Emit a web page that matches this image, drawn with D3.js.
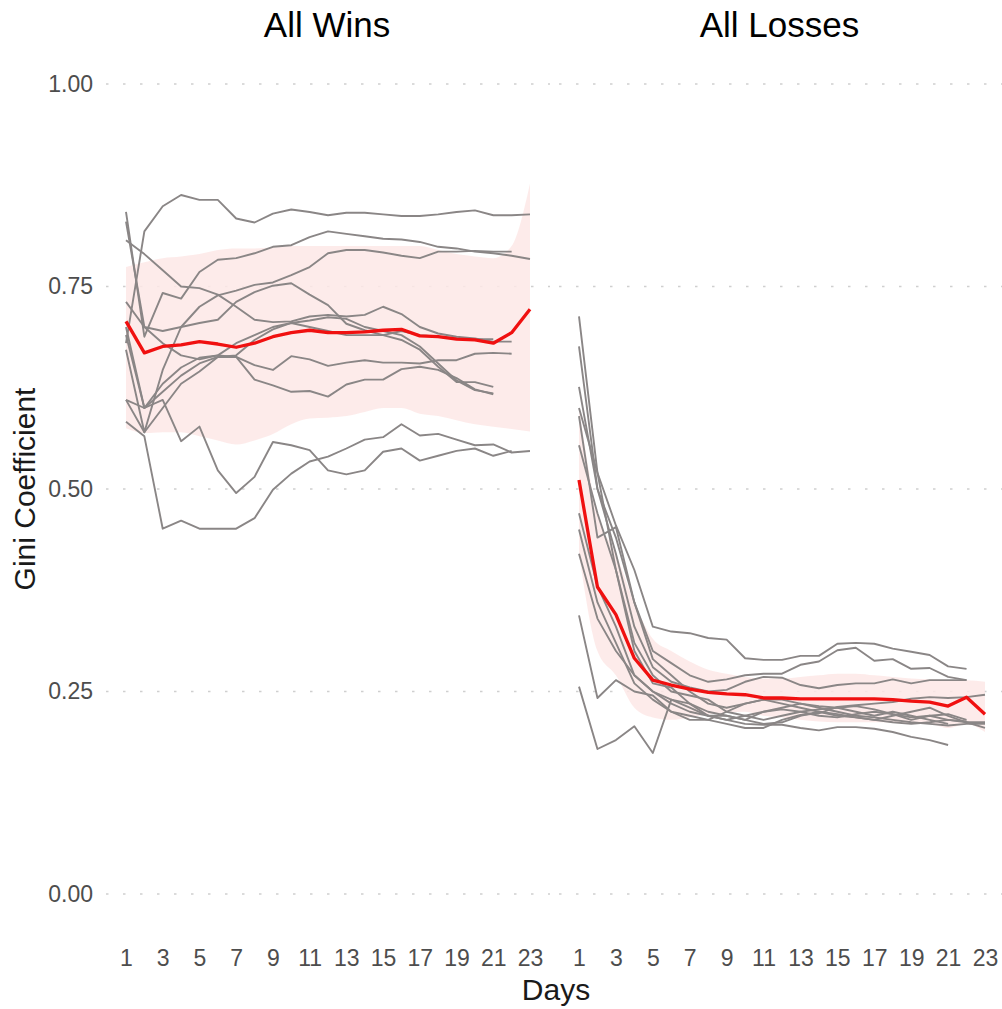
<!DOCTYPE html>
<html>
<head>
<meta charset="utf-8">
<script src="https://cdn.jsdelivr.net/npm/d3@7"></script>
<style>
  html, body { margin: 0; padding: 0; background: #ffffff; }
  svg { display: block; font-family: "Liberation Sans", Arial, Helvetica, sans-serif; }
</style>
</head>
<body>
<svg id="chart" width="1002" height="1009"></svg>
<script>
// ---------------- data ----------------
const days = d3.range(1, 24);
const xTickLabels = [1, 3, 5, 7, 9, 11, 13, 15, 17, 19, 21, 23];
const yTickValues = [0, 0.25, 0.5, 0.75, 1.0];
const panelTitles = ["All Wins", "All Losses"];

// All Wins: individual series (Gini coefficient by day, starting at day 1)
const winsA = [0.68,0.818,0.849,0.863,0.857,0.857,0.834,0.829,0.840,0.845,0.842,0.838,0.841,0.841,0.839,0.837,0.837,0.839,0.842,0.844,0.838,0.838,0.839];
const winsB = [0.842,0.688,0.742,0.735,0.768,0.783,0.785,0.791,0.799,0.801,0.811,0.818,0.815,0.812,0.809,0.808,0.805,0.799,0.797,0.793,0.791,0.788,0.784];
const winsC = [0.672,0.57,0.647,0.70,0.725,0.739,0.745,0.752,0.755,0.764,0.774,0.791,0.795,0.795,0.792,0.788,0.785,0.793,0.793,0.794,0.793,0.793];
const winsD = [0.83,0.70,0.68,0.665,0.66,0.665,0.68,0.69,0.70,0.705,0.70,0.695,0.69,0.69,0.69,0.695,0.69,0.688,0.686,0.685,0.685];
const winsE = [0.807,0.79,0.770,0.750,0.748,0.740,0.725,0.709,0.706,0.707,0.713,0.715,0.713,0.715,0.725,0.716,0.700,0.692,0.688,0.686,0.682,0.682];
const winsF = [0.61,0.57,0.60,0.63,0.645,0.663,0.663,0.653,0.647,0.664,0.660,0.652,0.656,0.659,0.656,0.656,0.655,0.659,0.659,0.667,0.668,0.667];
const winsG = [0.70,0.60,0.63,0.65,0.662,0.665,0.663,0.635,0.628,0.620,0.621,0.614,0.629,0.635,0.635,0.648,0.651,0.647,0.637,0.623,0.617];
const winsH = [0.583,0.565,0.451,0.461,0.451,0.451,0.451,0.464,0.499,0.519,0.534,0.540,0.550,0.561,0.564,0.580,0.566,0.568,0.561,0.554,0.555,0.545,0.547];
const winsI = [0.610,0.600,0.610,0.559,0.577,0.523,0.495,0.515,0.558,0.554,0.548,0.523,0.518,0.523,0.546,0.550,0.535,0.541,0.547,0.550,0.541,0.547];
const winsP = [0.731,0.70,0.695,0.70,0.705,0.709,0.731,0.743,0.751,0.754,0.740,0.727,0.704,0.696,0.690,0.684,0.672,0.651,0.632,0.632,0.626];
const winsR = [0.69,0.60,0.62,0.64,0.655,0.663,0.665,0.684,0.697,0.705,0.708,0.712,0.71,0.70,0.695,0.69,0.676,0.655,0.634,0.622,0.618];
const winsMean  = [0.707,0.668,0.676,0.678,0.682,0.679,0.675,0.680,0.688,0.693,0.696,0.693,0.693,0.694,0.696,0.697,0.689,0.688,0.685,0.684,0.680,0.693,0.722];
const winsLower = [0.575,0.569,0.57,0.57,0.565,0.56,0.555,0.56,0.568,0.58,0.587,0.588,0.59,0.595,0.60,0.60,0.593,0.59,0.585,0.58,0.577,0.574,0.571];
const winsUpper = [0.774,0.78,0.785,0.787,0.79,0.795,0.797,0.797,0.798,0.80,0.80,0.80,0.80,0.80,0.80,0.80,0.80,0.795,0.79,0.787,0.785,0.80,0.877];

// All Losses: individual series
const lossA = [0.713,0.52,0.455,0.40,0.33,0.324,0.322,0.316,0.314,0.291,0.289,0.289,0.294,0.294,0.309,0.310,0.309,0.303,0.299,0.295,0.281,0.278];
const lossB = [0.676,0.50,0.44,0.36,0.30,0.285,0.27,0.262,0.265,0.27,0.272,0.272,0.283,0.287,0.301,0.304,0.288,0.290,0.278,0.279,0.268,0.264];
const lossC = [0.626,0.50,0.42,0.33,0.28,0.262,0.255,0.25,0.252,0.262,0.268,0.267,0.258,0.254,0.258,0.260,0.260,0.265,0.260,0.264,0.264,0.264];
const lossD = [0.45,0.36,0.31,0.26,0.24,0.225,0.215,0.215,0.21,0.205,0.205,0.215,0.221,0.223,0.231,0.233,0.235,0.237,0.241,0.243,0.242,0.243,0.246];
const lossE = [0.42,0.34,0.30,0.27,0.25,0.235,0.225,0.22,0.215,0.21,0.209,0.209,0.205,0.202,0.206,0.206,0.204,0.200,0.194,0.190,0.184];
const lossF = [0.256,0.179,0.190,0.207,0.174,0.24,0.235,0.22,0.215,0.22,0.225,0.23,0.235,0.232,0.23,0.225,0.22,0.225,0.22,0.215,0.21];
const lossG = [0.344,0.242,0.264,0.25,0.245,0.225,0.22,0.215,0.225,0.235,0.24,0.235,0.23,0.225,0.22,0.218,0.215,0.212,0.21,0.212,0.215,0.213];
const lossH = [0.59,0.44,0.453,0.36,0.29,0.27,0.25,0.235,0.23,0.235,0.24,0.24,0.235,0.23,0.225,0.22,0.218,0.215,0.212,0.21,0.208,0.21,0.21];
const lossI = [0.554,0.47,0.40,0.31,0.27,0.25,0.245,0.24,0.225,0.22,0.215,0.22,0.225,0.228,0.23,0.232,0.228,0.222,0.218,0.22,0.215,0.212,0.205];
const lossJ = [0.60,0.52,0.40,0.30,0.26,0.255,0.235,0.225,0.22,0.215,0.225,0.228,0.225,0.22,0.218,0.222,0.225,0.222,0.215,0.22,0.222,0.215];
const lossK = [0.47,0.38,0.33,0.27,0.25,0.24,0.23,0.22,0.22,0.215,0.21,0.212,0.22,0.225,0.222,0.218,0.215,0.22,0.225,0.23,0.22,0.212,0.212];
const lossMean  = [0.511,0.379,0.345,0.291,0.264,0.258,0.253,0.249,0.247,0.246,0.242,0.242,0.241,0.241,0.241,0.241,0.241,0.240,0.238,0.237,0.232,0.243,0.222];
const lossLower = [0.42,0.30,0.27,0.23,0.218,0.215,0.218,0.222,0.224,0.225,0.22,0.218,0.215,0.213,0.212,0.212,0.212,0.212,0.21,0.21,0.205,0.21,0.2];
const lossUpper = [0.60,0.47,0.42,0.36,0.315,0.30,0.287,0.277,0.272,0.268,0.266,0.266,0.268,0.27,0.272,0.272,0.27,0.268,0.266,0.265,0.264,0.264,0.262];

const panels = [
  { title: panelTitles[0], series: [winsA, winsB, winsC, winsD, winsE, winsF, winsG, winsH, winsI, winsP, winsR],
    mean: winsMean, lower: winsLower, upper: winsUpper },
  { title: panelTitles[1], series: [lossA, lossB, lossC, lossD, lossE, lossF, lossG, lossH, lossI, lossJ, lossK],
    mean: lossMean, lower: lossLower, upper: lossUpper }
];

// ---------------- layout ----------------
const svg = d3.select("#chart");
const y = d3.scaleLinear().domain([0, 1]).range([894, 84]);
const panelBoxes = [
  { x0: 106, x1: 550, d1: 126, d23: 530 },
  { x0: 559, x1: 1002, d1: 579, d23: 985 }
];

const gridColor = "#cfcfcf";
const lineGrey = "#8a8686";
const meanRed = "#f01010";
const ribbonFill = "#fde8e6";

panels.forEach((p, i) => {
  const box = panelBoxes[i];
  const x = d3.scaleLinear().domain([1, 23]).range([box.d1, box.d23]);
  const g = svg.append("g");

  // horizontal dotted grid lines
  g.selectAll("line.grid").data(yTickValues).join("line")
    .attr("x1", box.x0).attr("x2", box.x1)
    .attr("y1", d => y(d)).attr("y2", d => y(d))
    .attr("stroke", gridColor).attr("stroke-width", 1.6)
    .attr("stroke-dasharray", "2.5,14.5")
    .attr("stroke-linecap", "butt");

  // ribbon
  const area = d3.area()
    .x((d, k) => x(days[k]))
    .y0((d, k) => y(p.lower[k]))
    .y1((d, k) => y(p.upper[k]))
    .curve(d3.curveMonotoneX);
  g.append("path").datum(p.mean).attr("d", area)
    .attr("fill", ribbonFill).attr("opacity", 0.85);

  // individual series
  const line = d3.line().x((d, k) => x(days[k])).y(d => y(d));
  g.selectAll("path.series").data(p.series).join("path")
    .attr("class", "series")
    .attr("d", line)
    .attr("fill", "none")
    .attr("stroke", lineGrey)
    .attr("stroke-width", 1.9)
    .attr("stroke-linejoin", "round");

  // mean line
  g.append("path").datum(p.mean).attr("d", line)
    .attr("fill", "none").attr("stroke", meanRed)
    .attr("stroke-width", 3.3).attr("stroke-linejoin", "round");

  // x axis (tick labels only)
  const xAxis = d3.axisBottom(x).tickValues(xTickLabels).tickSize(0).tickPadding(0).tickFormat(d3.format("d"));
  const ax = svg.append("g").attr("transform", "translate(0,958)").call(xAxis);
  ax.select(".domain").remove();
  ax.selectAll("text").attr("font-size", 23).attr("fill", "#4d4d4d")
    .attr("font-family", "Liberation Sans, Arial, sans-serif")
    .attr("dy", "0.35em").attr("y", 0);

  // panel title
  svg.append("text")
    .attr("x", (box.x0 + box.x1) / 2 - 1).attr("y", 37)
    .attr("text-anchor", "middle")
    .attr("font-size", 35).attr("fill", "#000")
    .text(p.title);
});

// y axis (tick labels only)
const yAxis = d3.axisLeft(y).tickValues(yTickValues).tickSize(0).tickPadding(0).tickFormat(d3.format(".2f"));
const ay = svg.append("g").attr("transform", "translate(93,0)").call(yAxis);
ay.select(".domain").remove();
ay.selectAll("text").attr("font-size", 23).attr("fill", "#4d4d4d")
  .attr("font-family", "Liberation Sans, Arial, sans-serif").attr("x", 0);

// axis titles
svg.append("text")
  .attr("x", 556).attr("y", 1000)
  .attr("text-anchor", "middle")
  .attr("font-size", 30).attr("fill", "#1a1a1a")
  .text("Days");

svg.append("text")
  .attr("transform", "translate(35,489) rotate(-90)")
  .attr("text-anchor", "middle")
  .attr("font-size", 30).attr("fill", "#1a1a1a")
  .text("Gini Coefficient");
</script>
</body>
</html>
